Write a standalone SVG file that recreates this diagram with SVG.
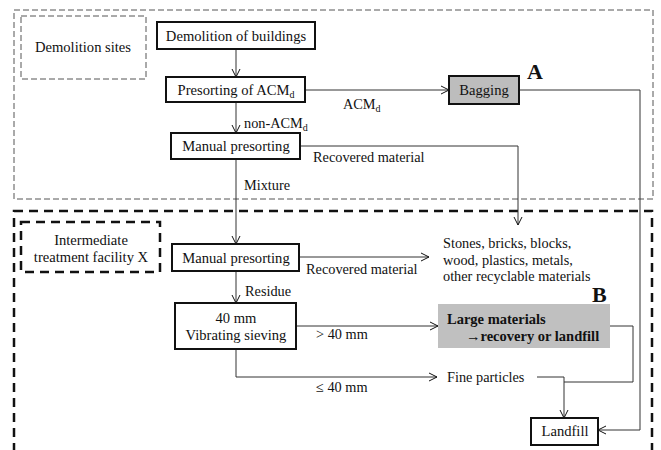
<svg xmlns="http://www.w3.org/2000/svg" width="661" height="450" viewBox="0 0 661 450" font-family="'Liberation Serif', 'Times New Roman', serif">
<defs>
<style>
text{font-family:"Liberation Serif","Times New Roman",serif;font-size:14.6px;fill:#111}
.c{text-anchor:middle}
.s{font-size:14.3px}
.b{font-weight:bold;font-size:14.5px}
.big{font-size:22px;font-weight:bold}
.box{fill:#fff;stroke:#111;stroke-width:2}
.gray{fill:#bdbdbd;stroke:#111;stroke-width:2}
.conn{fill:none;stroke:#333;stroke-width:1}
.thin{fill:none;stroke:#555;stroke-width:1;stroke-dasharray:6,3}
.thick{fill:none;stroke:#111;stroke-width:2.5;stroke-dasharray:9,6}
</style>
<marker id="arr" markerUnits="userSpaceOnUse" markerWidth="12" markerHeight="12" refX="9" refY="5" orient="auto">
<path d="M1,1 L9,5 L1,9" fill="none" stroke="#111" stroke-width="1"/>
</marker>
</defs>
<g id="region-demolition-sites">
<rect class="thin" x="14" y="10" width="639" height="189"/>
</g>
<g id="region-intermediate">
<rect class="thick" x="14" y="211" width="638" height="270"/>
</g>
<g id="connectors">
<line class="conn" x1="236" y1="49" x2="236" y2="77" marker-end="url(#arr)"/>
<line class="conn" x1="236" y1="102" x2="236" y2="133" marker-end="url(#arr)"/>
<line class="conn" x1="305" y1="90" x2="449" y2="90" marker-end="url(#arr)"/>
<polyline class="conn" points="519,90 640,90 640,430 598,430" marker-end="url(#arr)"/>
<polyline class="conn" points="300,146 518,146 518,225" marker-end="url(#arr)"/>
<line class="conn" x1="236" y1="159" x2="236" y2="244" marker-end="url(#arr)"/>
<line class="conn" x1="299" y1="257" x2="429" y2="257" marker-end="url(#arr)"/>
<line class="conn" x1="236" y1="271" x2="236" y2="303" marker-end="url(#arr)"/>
<line class="conn" x1="296" y1="326" x2="438" y2="326" marker-end="url(#arr)"/>
<polyline class="conn" points="236,349 236,377 437,377" marker-end="url(#arr)"/>
<polyline class="conn" points="610,326 633,326 633,382 564,382"/>
<polyline class="conn" points="537,377 564,377 564,418" marker-end="url(#arr)"/>
</g>
<g id="demolition-sites">
<rect class="thin" x="21" y="16" width="125" height="63"/>
<text class="c" x="83" y="52">Demolition sites</text>
</g>
<g id="demolition-of-buildings">
<rect class="box" x="157" y="22" width="158" height="27"/>
<text class="c" x="236" y="41">Demolition of buildings</text>
</g>
<g id="presorting-acm">
<rect class="box" x="166" y="77" width="139" height="25"/>
<text class="c" x="236" y="95">Presorting of ACM<tspan font-size="10" dy="3">d</tspan></text>
</g>
<g id="bagging">
<rect class="gray" x="449" y="76" width="70" height="28"/>
<text class="c" x="484" y="95">Bagging</text>
<text class="big" x="527" y="79">A</text>
</g>
<g id="manual-presorting-1">
<rect class="box" x="171" y="133" width="129" height="26"/>
<text class="c" x="236" y="151">Manual presorting</text>
</g>
<g id="labels-top">
<text class="s" x="343" y="109">ACM<tspan font-size="10" dy="3">d</tspan></text>
<text class="s" x="244" y="128">non-ACM<tspan font-size="10" dy="3">d</tspan></text>
<text class="s" x="313" y="162">Recovered material</text>
<text class="s" x="244" y="190">Mixture</text>
</g>
<g id="intermediate-facility">
<rect class="thick" x="21" y="222" width="139" height="50" stroke-dasharray="9,5"/>
<text class="c" x="91" y="245">Intermediate</text>
<text class="c" x="91" y="262">treatment facility X</text>
</g>
<g id="manual-presorting-2">
<rect class="box" x="172" y="244" width="127" height="27"/>
<text class="c" x="236" y="263">Manual presorting</text>
</g>
<g id="recyclables">
<text class="s" x="443" y="248">Stones, bricks, blocks,</text>
<text class="s" x="443" y="265">wood, plastics, metals,</text>
<text class="s" x="443" y="281">other recyclable materials</text>
</g>
<g id="vibrating-sieving">
<rect class="box" x="175" y="303" width="121" height="46"/>
<text class="c" x="236" y="323">40 mm</text>
<text class="c" x="236" y="340">Vibrating sieving</text>
</g>
<g id="large-materials">
<rect x="438" y="304" width="172" height="44" fill="#c0c0c0"/>
<text class="b" x="447" y="324">Large materials</text>
<text class="b" x="466" y="341">→recovery or landfill</text>
<text class="big" x="592" y="302">B</text>
</g>
<g id="fine-particles">
<text class="s" x="447" y="382">Fine particles</text>
</g>
<g id="labels-bottom">
<text class="s" x="306" y="274">Recovered material</text>
<text class="s" x="245" y="296">Residue</text>
<text class="s" x="316" y="339">&gt; 40 mm</text>
<text class="s" x="316" y="392">≤ 40 mm</text>
</g>
<g id="landfill">
<rect class="box" x="531" y="418" width="67" height="27"/>
<text class="c" x="565" y="436">Landfill</text>
</g>
</svg>
